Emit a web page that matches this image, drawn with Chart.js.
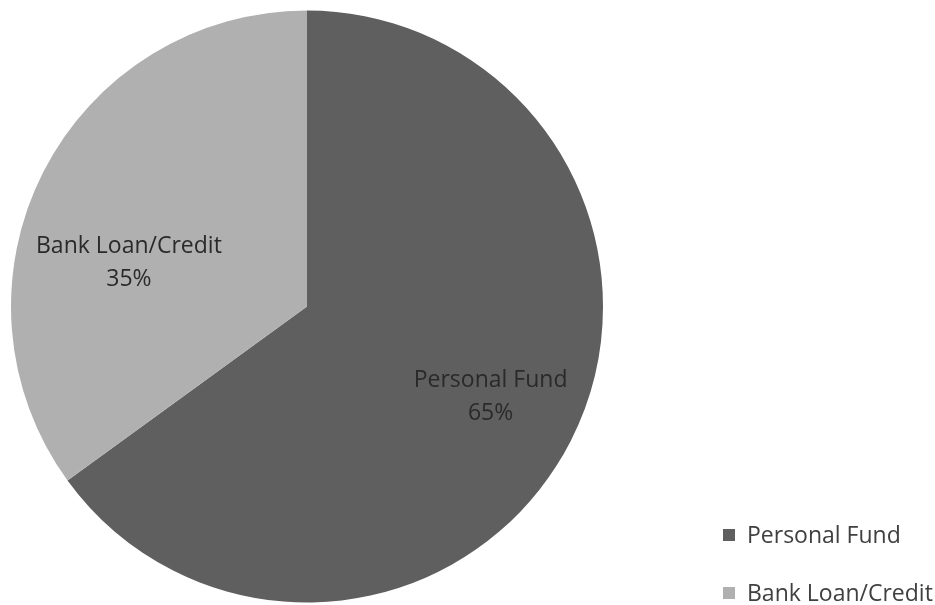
<!DOCTYPE html>
<html>
<head>
<meta charset="utf-8">
<script src="https://cdn.jsdelivr.net/npm/chart.js@4"></script>
<style>
  html, body { margin: 0; padding: 0; background: #fff; }
  #wrap { position: relative; width: 935px; height: 605px; }
  #legend { position: absolute; left: 723px; top: 519px; font-family: "Open Sans", sans-serif; font-size: 23px; color: #404040; }
  #legend div { height: 31px; line-height: 31px; margin-bottom: 27px; white-space: nowrap; }
  #legend span { display: inline-block; width: 12px; height: 12px; margin-right: 12px; vertical-align: 2px; }
</style>
</head>
<body>
<div id="wrap">
  <canvas id="myChart" width="935" height="605"></canvas>
  <div id="legend"></div>
</div>
<script>
const labels = ["Personal Fund", "Bank Loan/Credit"];
const values = [65, 35];
const colors = ["#5f5f5f", "#b0b0b0"];
// where each slice label sits: fraction of radius, angle nudge (deg)
const labelRadius = [0.69, 0.62];
const labelNudge = [-1, -13];

// draw "name\nxx%" inside the slices
const sliceLabels = {
  id: "sliceLabels",
  afterDatasetsDraw(chart) {
    const ctx = chart.ctx;
    const meta = chart.getDatasetMeta(0);
    ctx.save();
    ctx.font = "23px 'Open Sans', sans-serif";
    ctx.fillStyle = "#2a2a2a";
    ctx.textAlign = "center";
    ctx.textBaseline = "middle";
    meta.data.forEach((arc, i) => {
      const p = arc.getProps(["x", "y", "startAngle", "endAngle", "outerRadius"], true);
      const a = (p.startAngle + p.endAngle) / 2 + labelNudge[i] * Math.PI / 180;
      const r = p.outerRadius * labelRadius[i];
      const x = p.x + Math.cos(a) * r;
      const y = p.y + Math.sin(a) * r;
      ctx.fillText(labels[i], x, y - 16);
      ctx.fillText(values[i] + "%", x, y + 17);
    });
    ctx.restore();
  }
};

const data = {
  labels: labels,
  datasets: [
    {
      data: values,
      backgroundColor: colors,
      borderWidth: 0,
    },
  ],
};

const config = {
  type: "pie",
  data: data,
  options: {
    responsive: false,
    animation: false,
    layout: {
      padding: { left: 11, right: 332, top: 10, bottom: 2 },
    },
    plugins: {
      legend: { display: false },
      tooltip: { enabled: false },
    },
  },
  plugins: [sliceLabels],
};

let myChart = new Chart(document.getElementById("myChart"), config);

const legend = document.getElementById("legend");
labels.forEach((l, i) => {
  const row = document.createElement("div");
  row.innerHTML = '<span style="background:' + colors[i] + '"></span>' + l;
  legend.appendChild(row);
});
</script>
</body>
</html>
